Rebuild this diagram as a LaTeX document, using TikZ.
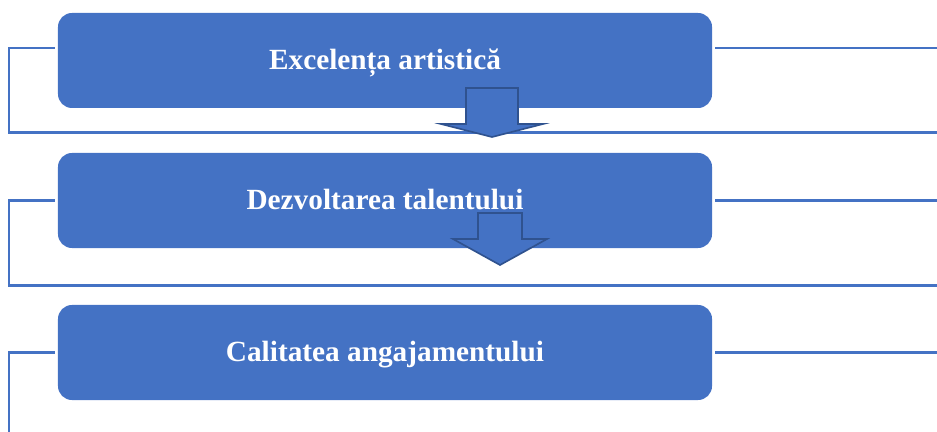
\documentclass[tikz,border=0pt]{standalone}
\usepackage{fontspec}
\setmainfont{Liberation Serif}
\definecolor{boxblue}{HTML}{4472C4}
\definecolor{edgeblue}{HTML}{2F528F}
\tikzset{
  stage/.style={fill=boxblue, rounded corners=0.42cm, minimum width=19.62cm,
    minimum height=2.85cm, text=white, text height=20pt, text depth=5pt,
    font=\fontsize{25}{29}\selectfont\bfseries},
  link/.style={draw=boxblue, line width=2.1pt},
  downarrow/.style={fill=boxblue, draw=edgeblue, line width=1.4pt, line join=miter}
}
\begin{document}
\begin{tikzpicture}[x=0.03cm,y=-0.03cm]
  \useasboundingbox (0,0) rectangle (937,432);
  % stages
  \node[stage] (excel) at (385,60.5) {Excelența artistică};
  \node[stage] (talent) at (385,200.5) {Dezvoltarea talentului};
  \node[stage] (engage) at (385,352.5) {Calitatea angajamentului};
  % side lines
  \draw[link] ([xshift=-0.09cm]excel.west |- 0,48) -- (9,48) |- (937,132.5);
  \draw[link] ([xshift=0.09cm]excel.east |- 0,48) -- (937,48);
  \draw[link] ([xshift=-0.09cm]talent.west) -- (9,200.5) |- (937,285.5);
  \draw[link] ([xshift=0.09cm]talent.east) -- (937,200.5);
  \draw[link] ([xshift=-0.09cm]engage.west) -- (9,352.5) -- (9,432);
  \draw[link] ([xshift=0.09cm]engage.east) -- (937,352.5);
  % block arrows
  \draw[downarrow] (466,88) -- (518,88) -- (518,124) -- (543,124) -- (492,137)
    -- (441,124) -- (466,124) -- cycle;
  \draw[downarrow] (478,213) -- (522,213) -- (522,239) -- (547,239) -- (500,265)
    -- (453,239) -- (478,239) -- cycle;
\end{tikzpicture}
\end{document}
